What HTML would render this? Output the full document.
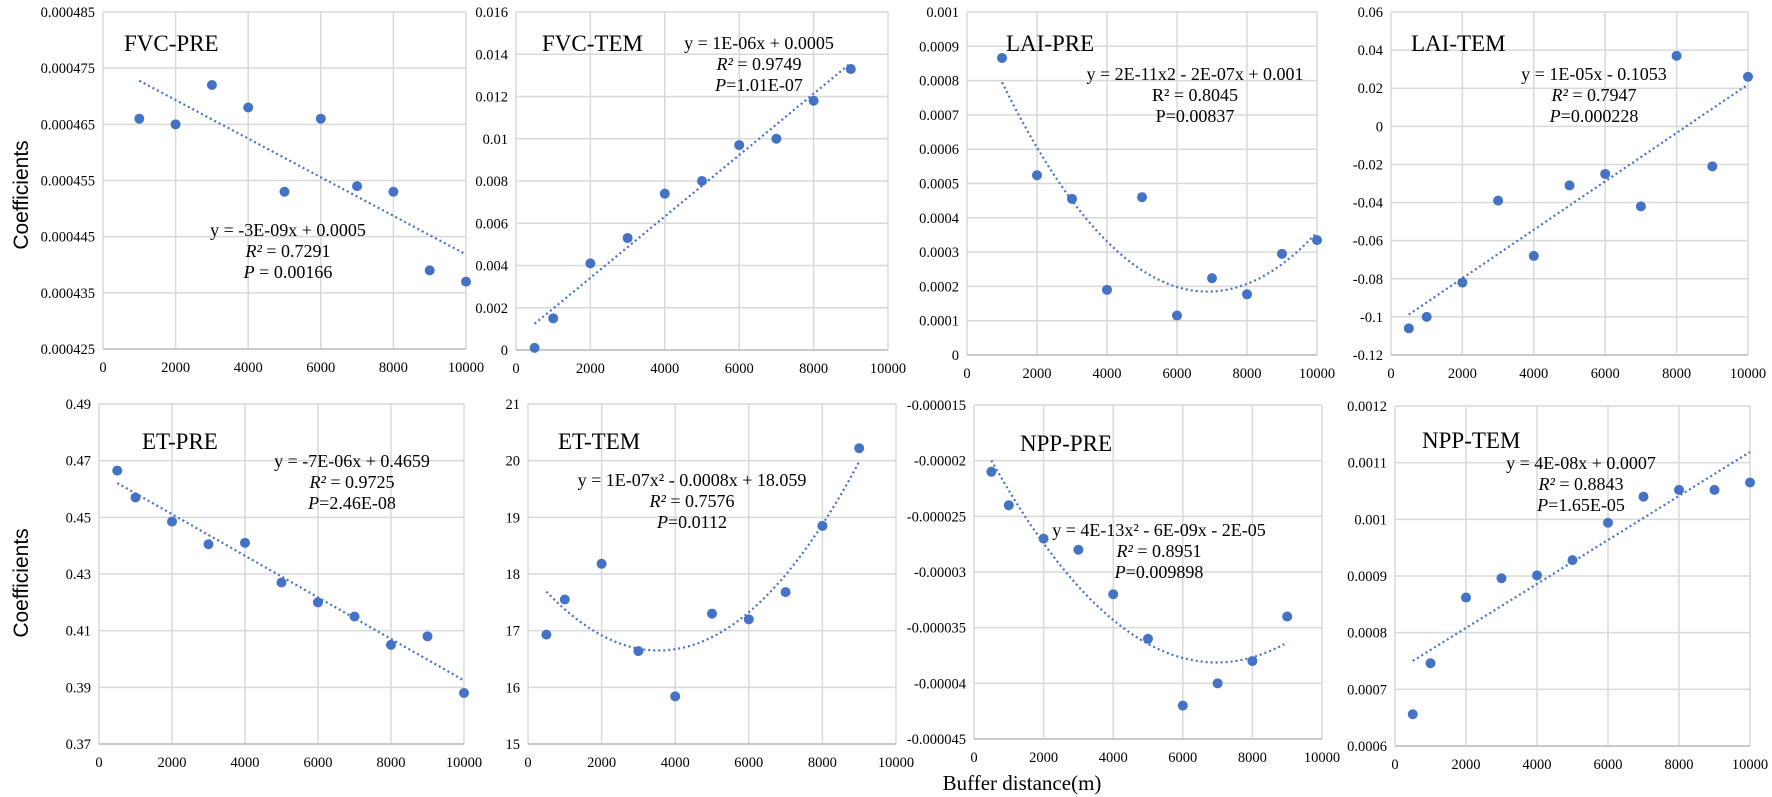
<!DOCTYPE html>
<html><head><meta charset="utf-8"><style>
html,body{margin:0;padding:0;background:#fff;}
svg{display:block;font-family:"Liberation Serif",serif;}
</style></head><body>
<svg id="chart" width="1772" height="797" viewBox="0 0 1772 797" xmlns="http://www.w3.org/2000/svg">
<text x="0" y="0" transform="translate(28,195) rotate(-90)" text-anchor="middle" font-family="Liberation Sans, sans-serif" font-size="21">Coefficients</text>
<text x="0" y="0" transform="translate(28,583) rotate(-90)" text-anchor="middle" font-family="Liberation Sans, sans-serif" font-size="21">Coefficients</text>
<text x="1022" y="790" text-anchor="middle" font-size="21">Buffer distance(m)</text>
</svg>
<script>
const xTickLabels=["0","2000","4000","6000","8000","10000"];
const xTickValues=[0,2000,4000,6000,8000,10000];
const fvcPreX=[1000,2000,3000,4000,5000,6000,7000,8000,9000,10000];
const fvcPreY=[0.000466,0.000465,0.000472,0.000468,0.000453,0.000466,0.000454,0.000453,0.000439,0.000437];
const fvcPreTicks=["0.000425","0.000435","0.000445","0.000455","0.000465","0.000475","0.000485"];
const fvcTemX=[500,1000,2000,3000,4000,5000,6000,7000,8000,9000];
const fvcTemY=[0.0001,0.0015,0.0041,0.0053,0.0074,0.0080,0.0097,0.0100,0.0118,0.0133];
const fvcTemTicks=["0","0.002","0.004","0.006","0.008","0.01","0.012","0.014","0.016"];
const laiPreX=[1000,2000,3000,4000,5000,6000,7000,8000,9000,10000];
const laiPreY=[0.000866,0.000524,0.000455,0.00019,0.00046,0.000115,0.000224,0.000177,0.000295,0.000335];
const laiPreTicks=["0","0.0001","0.0002","0.0003","0.0004","0.0005","0.0006","0.0007","0.0008","0.0009","0.001"];
const laiTemX=[500,1000,2000,3000,4000,5000,6000,7000,8000,9000,10000];
const laiTemY=[-0.106,-0.1,-0.082,-0.039,-0.068,-0.031,-0.025,-0.042,0.037,-0.021,0.026];
const laiTemTicks=["-0.12","-0.1","-0.08","-0.06","-0.04","-0.02","0","0.02","0.04","0.06"];
const etPreX=[500,1000,2000,3000,4000,5000,6000,7000,8000,9000,10000];
const etPreY=[0.4665,0.457,0.4485,0.4405,0.441,0.427,0.420,0.415,0.405,0.408,0.388];
const etPreTicks=["0.37","0.39","0.41","0.43","0.45","0.47","0.49"];
const etTemX=[500,1000,2000,3000,4000,5000,6000,7000,8000,9000];
const etTemY=[16.93,17.55,18.18,16.64,15.84,17.3,17.2,17.68,18.85,20.22];
const etTemTicks=["15","16","17","18","19","20","21"];
const nppPreX=[500,1000,2000,3000,4000,5000,6000,7000,8000,9000];
const nppPreY=[-0.000021,-0.000024,-0.000027,-0.000028,-0.000032,-0.000036,-0.000042,-0.00004,-0.000038,-0.000034];
const nppPreTicks=["-0.000045","-0.00004","-0.000035","-0.00003","-0.000025","-0.00002","-0.000015"];
const nppTemX=[500,1000,2000,3000,4000,5000,6000,7000,8000,9000,10000];
const nppTemY=[0.000656,0.000746,0.000862,0.000896,0.000901,0.000928,0.000994,0.00104,0.001052,0.001052,0.001065];
const nppTemTicks=["0.0006","0.0007","0.0008","0.0009","0.001","0.0011","0.0012"];

const NS="http://www.w3.org/2000/svg";
const svg=document.getElementById('chart');
function mk(tag,attrs,parent){const e=document.createElementNS(NS,tag);for(const k in attrs)e.setAttribute(k,attrs[k]);(parent||svg).appendChild(e);return e;}

function fit(xs,ys,deg){
  const n=deg+1;const A=[];for(let i=0;i<n;i++){A.push(new Array(n+1).fill(0));}
  for(let k=0;k<xs.length;k++){const x=xs[k]/1000;for(let i=0;i<n;i++){for(let j=0;j<n;j++)A[i][j]+=Math.pow(x,i+j);A[i][n]+=ys[k]*Math.pow(x,i);}}
  for(let i=0;i<n;i++){let p=i;for(let r=i+1;r<n;r++)if(Math.abs(A[r][i])>Math.abs(A[p][i]))p=r;[A[i],A[p]]=[A[p],A[i]];
    for(let r=0;r<n;r++){if(r===i)continue;const f=A[r][i]/A[i][i];for(let c=i;c<=n;c++)A[r][c]-=f*A[i][c];}}
  const co=A.map((row,i)=>row[n]/row[i]);
  return x=>{let s=0;for(let i=0;i<n;i++)s+=co[i]*Math.pow(x/1000,i);return s;};
}

const panels=[
 {id:'fvc-pre',xs:fvcPreX,ys:fvcPreY,ticks:fvcPreTicks,l:103,r:466,t:12,b:349,deg:1,title:'FVC-PRE',tx:124,ty:51,eq:['y = -3E-09x + 0.0005','R² = 0.7291','P = 0.00166'],ex:288,ey:236},
 {id:'fvc-tem',xs:fvcTemX,ys:fvcTemY,ticks:fvcTemTicks,l:516,r:888,t:12,b:350,deg:1,title:'FVC-TEM',tx:542,ty:51,eq:['y = 1E-06x + 0.0005','R² = 0.9749','P=1.01E-07'],ex:759,ey:49},
 {id:'lai-pre',xs:laiPreX,ys:laiPreY,ticks:laiPreTicks,l:967,r:1317,t:12,b:355,deg:2,title:'LAI-PRE',tx:1006,ty:51,eq:['y = 2E-11x2 - 2E-07x + 0.001','R² = 0.8045','P=0.00837'],ex:1195,ey:80,plain:true},
 {id:'lai-tem',xs:laiTemX,ys:laiTemY,ticks:laiTemTicks,l:1391,r:1748,t:12,b:355,deg:1,title:'LAI-TEM',tx:1411,ty:51,eq:['y = 1E-05x - 0.1053','R² = 0.7947','P=0.000228'],ex:1594,ey:80},
 {id:'et-pre',xs:etPreX,ys:etPreY,ticks:etPreTicks,l:99,r:464,t:404,b:744,deg:1,title:'ET-PRE',tx:142,ty:449,eq:['y = -7E-06x + 0.4659','R² = 0.9725','P=2.46E-08'],ex:352,ey:467},
 {id:'et-tem',xs:etTemX,ys:etTemY,ticks:etTemTicks,l:528,r:896,t:404,b:744,deg:2,title:'ET-TEM',tx:558,ty:449,eq:['y = 1E-07x² - 0.0008x + 18.059','R² = 0.7576','P=0.0112'],ex:692,ey:486},
 {id:'npp-pre',xs:nppPreX,ys:nppPreY,ticks:nppPreTicks,l:974,r:1322,t:405,b:739,deg:2,title:'NPP-PRE',tx:1020,ty:451,eq:['y = 4E-13x² - 6E-09x - 2E-05','R² = 0.8951','P=0.009898'],ex:1159,ey:536},
 {id:'npp-tem',xs:nppTemX,ys:nppTemY,ticks:nppTemTicks,l:1395,r:1750,t:406,b:746,deg:1,title:'NPP-TEM',tx:1422,ty:448,eq:['y = 4E-08x + 0.0007','R² = 0.8843','P=1.65E-05'],ex:1581,ey:469}
];

panels.forEach(p=>{
  const g=mk('g',{});
  
  
  const ymin=parseFloat(p.ticks[0]),ymax=parseFloat(p.ticks[p.ticks.length-1]);
  const sx=v=>p.l+(v-0)/(10000-0)*(p.r-p.l);
  const sy=v=>p.b-(v-ymin)/(ymax-ymin)*(p.b-p.t);
  // horizontal gridlines + y ticks
  p.ticks.forEach(tk=>{
    const v=parseFloat(tk);
    const ln=mk('line',{x1:p.l,x2:p.r,y1:sy(v),y2:sy(v),stroke:'#d9d9d9','stroke-width':1.5},g);
    
    
    const t=mk('text',{x:p.l-8,y:sy(v)+5,'text-anchor':'end','font-size':14.5},g);
    
    
    t.textContent=tk;
  });
  xTickValues.forEach((v,i)=>{
    const ln=mk('line',{x1:sx(v),x2:sx(v),y1:p.t,y2:p.b,stroke:'#d9d9d9','stroke-width':1.5},g);
    
    
    const t=mk('text',{x:sx(v),y:p.b+23,'text-anchor':'middle','font-size':14.5},g);
    
    
    t.textContent=xTickLabels[i];
  });
  const ax=mk('line',{x1:p.l,x2:p.r,y1:p.b,y2:p.b,stroke:'#bfbfbf','stroke-width':1.5},g);
  
  
  // trendline
  const f=fit(p.xs,p.ys,p.deg);
  const x0=p.xs[0],x1=p.xs[p.xs.length-1];let d='';
  for(let i=0;i<=60;i++){const xv=x0+(x1-x0)*i/60;d+=(i?'L':'M')+sx(xv).toFixed(1)+','+sy(f(xv)).toFixed(1);}
  const tr=mk('path',{d:d,fill:'none',stroke:'#4472c4','stroke-width':2.2,'stroke-dasharray':'2 3'},g);
  
  
  p.xs.forEach((xv,i)=>{
    const c=mk('circle',{cx:sx(xv),cy:sy(p.ys[i]),r:5,fill:'#4472c4'},g);
    
    
  });
  const tt=mk('text',{x:p.tx,y:p.ty,'font-size':23},g);
  
  
  tt.textContent=p.title;
  p.eq.forEach((s,i)=>{
    const t=mk('text',{x:p.ex,y:p.ey+i*21,'text-anchor':'middle','font-size':18},g);
    
    
    if(i>0&&!p.plain){
      const m=s.match(/^(R²|P)(.*)$/);
      const a=mk('tspan',{'font-style':'italic'},t);a.textContent=m[1];
      const b=mk('tspan',{},t);b.textContent=m[2];
    } else t.textContent=s;
  });
});
</script>
</body></html>
